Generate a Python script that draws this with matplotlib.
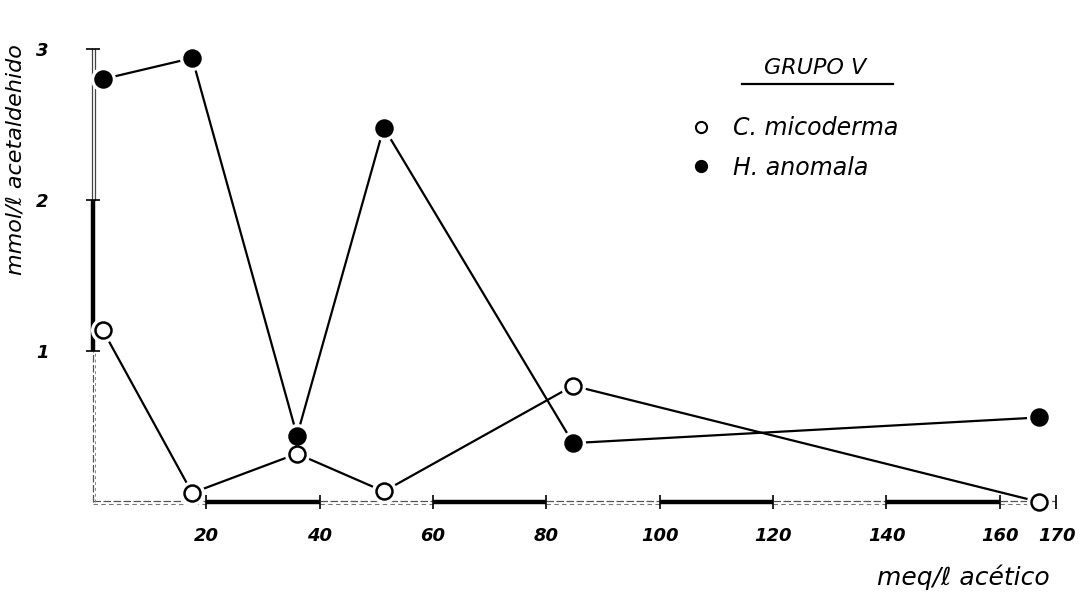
import matplotlib
matplotlib.use("Agg")
import matplotlib.pyplot as plt
from matplotlib.lines import Line2D

# values (Grupo V)
acetico = [1.7, 17.5, 36.0, 51.3, 84.7, 167.0]
micoderma = [1.14, 0.06, 0.32, 0.07, 0.77, 0.0]
anomala = [2.80, 2.94, 0.44, 2.48, 0.39, 0.56]

x_ticks = [20, 40, 60, 80, 100, 120, 140, 160, 170]
y_ticks = [1, 2, 3]

TEXT_FONT = dict(family='DejaVu Sans', style='italic')


def draw_series(ax, x, y, filled):
    face = 'black' if filled else 'white'
    ax.plot(x, y, color='black', lw=1.6, zorder=2, clip_on=False)
    # white halo so the line stops short of the dot, like the drawing
    ax.plot(x, y, ls='none', marker='o', ms=17, mfc='white', mec='white',
            zorder=3, clip_on=False)
    ax.plot(x, y, ls='none', marker='o', ms=11.5, mfc=face, mec='black',
            mew=1.8, zorder=4, clip_on=False)


def draw_axes_lines(ax):
    # x axis drawn as alternating thick / dashed pieces
    pieces = [(0, 20, False), (20, 40, True), (40, 60, False), (60, 80, True),
              (80, 100, False), (100, 120, True), (120, 140, False),
              (140, 160, True), (160, 170, False)]
    for a, b, thick in pieces:
        if thick:
            ax.plot([a, b], [0, 0], color='black', lw=3.2, clip_on=False,
                    solid_capstyle='butt', zorder=1)
        else:
            ax.plot([a, b], [0.006, 0.006], color='#555555', lw=0.9,
                    ls=(0, (6, 2)), clip_on=False, zorder=1)
            ax.plot([a, b], [-0.012, -0.012], color='#777777', lw=0.8,
                    ls=(0, (4, 3)), clip_on=False, zorder=1)
    # y axis
    ax.plot([0, 0], [0, 1], color='#555555', lw=0.9, ls=(0, (6, 2)),
            clip_on=False, zorder=1)
    ax.plot([0, 0], [1, 2], color='black', lw=3.2, clip_on=False,
            solid_capstyle='butt', zorder=1)
    for off in (-0.25, 0.35):
        ax.plot([off, off], [2, 3.0], color='#444444', lw=0.9,
                clip_on=False, zorder=1)
    ax.plot([0.3, 0.3], [0, 1], color='#888888', lw=0.7, ls=(0, (3, 3)),
            clip_on=False, zorder=1)


fig = plt.figure(figsize=(10.89, 6.02), dpi=100)
ax = fig.add_axes([93 / 1089, 100 / 602, 972 / 1089, 453 / 602])

draw_axes_lines(ax)
draw_series(ax, acetico, micoderma, filled=False)
draw_series(ax, acetico, anomala, filled=True)

ax.set_xlim(0, 171.5)
ax.set_ylim(0, 3)
for s in ax.spines.values():
    s.set_visible(False)

ax.set_xticks(x_ticks)
ax.set_xticklabels([str(t) for t in x_ticks], fontsize=13, fontweight='bold', **TEXT_FONT)
ax.set_yticks(y_ticks)
ax.set_yticklabels([str(t) for t in y_ticks], fontsize=13, fontweight='bold', **TEXT_FONT)
ax.tick_params(axis='x', direction='inout', length=10, width=1.2, pad=13)
ax.tick_params(axis='y', direction='inout', length=10, width=1.2, pad=27)

fig.text(16 / 1089, 1 - 160 / 602, 'mmol/ℓ acetaldehido', rotation=90,
         ha='center', va='center', fontsize=16, **TEXT_FONT)
fig.text(1050 / 1089, 1 - 577 / 602, 'meq/ℓ acético', ha='right',
         va='center', fontsize=18, **TEXT_FONT)

# legend block
fig.text(815 / 1089, 1 - 68 / 602, 'GRUPO V', ha='center', va='center',
         fontsize=16, **TEXT_FONT)
fig.add_artist(Line2D([742 / 1089, 893 / 1089], [1 - 84 / 602, 1 - 84 / 602],
                      color='black', lw=1.6))
handles = [
    Line2D([], [], ls='none', marker='o', ms=8, mfc='white', mec='black',
           mew=1.5, label='C. micoderma'),
    Line2D([], [], ls='none', marker='o', ms=8.5, mfc='black', mec='black',
           label='H. anomala'),
]
fig.legend(handles=handles, loc='upper left',
           bbox_to_anchor=(656 / 1089, 1 - 95 / 602), frameon=False,
           handletextpad=0.35, labelspacing=0.65,
           prop=dict(family='DejaVu Sans', style='italic', size=17))

fig.savefig('out.png', dpi=100, facecolor='white')
